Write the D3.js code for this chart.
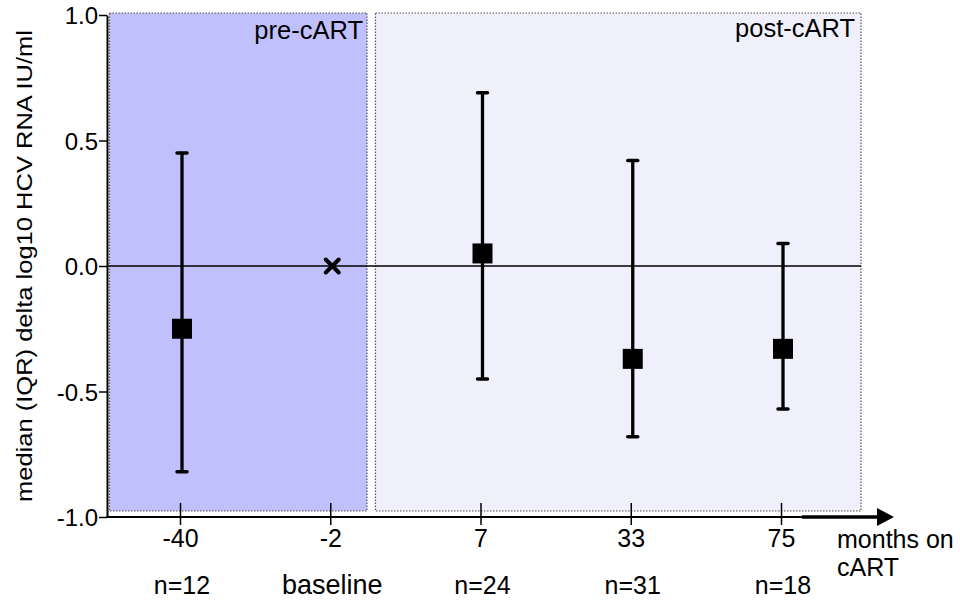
<!DOCTYPE html>
<html><head><meta charset="utf-8">
<script src="https://cdn.jsdelivr.net/npm/d3@7"></script>
<style>body{margin:0;background:#fff}text{font-family:"Liberation Sans",Arial,sans-serif;fill:#000}</style>
</head><body><svg id="c" width="960" height="600"></svg>
<script>
const categories = ["-40", "-2", "7", "33", "75"];
const nLabels = ["n=12", "baseline", "n=24", "n=31", "n=18"];
const medians = [-0.25, 0, 0.05, -0.37, -0.33];
const upper = [0.45, null, 0.69, 0.42, 0.09];
const lower = [-0.82, null, -0.45, -0.68, -0.57];
const yTicks = [1.0, 0.5, 0.0, -0.5, -1.0];
const regionLabels = ["pre-cART", "post-cART"];

const svg = d3.select("#c");
const x = d3.scalePoint().domain(categories).range([182, 783]);
const y = d3.scaleLinear().domain([-1, 1]).range([517, 15]);
const axisX = 107;
const tickOffset = -2;

// shaded regions
const regTop = 13, regBot = 511;
svg.append("rect").attr("x", 109.5).attr("y", regTop).attr("width", 367 - 109.5)
  .attr("height", regBot - regTop).attr("fill", "#c0c0fd").attr("stroke", "#555").attr("stroke-width", 1.2).attr("stroke-dasharray", "1.5,1.5");
svg.append("rect").attr("x", 375.5).attr("y", regTop).attr("width", 861 - 375.5)
  .attr("height", regBot - regTop).attr("fill", "#f0f0fd").attr("stroke", "#555").attr("stroke-width", 1.2).attr("stroke-dasharray", "1.5,1.5");
svg.append("text").attr("x", 363).attr("y", 39).attr("text-anchor", "end").attr("font-size", 25.5).text(regionLabels[0]);
svg.append("text").attr("x", 855).attr("y", 37).attr("text-anchor", "end").attr("font-size", 25.5).text(regionLabels[1]);

// zero line
svg.append("line").attr("x1", axisX).attr("x2", 861).attr("y1", y(0)).attr("y2", y(0)).attr("stroke", "#000").attr("stroke-width", 1.3);

// y axis
const yAxis = d3.axisLeft(y).tickValues(yTicks).tickFormat(d => d3.format(".1f")(d).replace("\u2212", "-")).tickSize(8).tickPadding(1).tickSizeOuter(0);
const ya = svg.append("g").attr("transform", `translate(${axisX},0)`).call(yAxis);
ya.select(".domain").attr("stroke-width", 2);
ya.selectAll(".tick line").attr("stroke-width", 1.5);
ya.selectAll("text").attr("font-size", 24).attr("font-family", null).attr("dy", "0.36em");

svg.append("text").attr("transform", `translate(32,${y(0)}) rotate(-90) scale(1.16,1)`).attr("text-anchor", "middle").attr("font-size", 22)
  .text("median (IQR) delta log10 HCV RNA IU/ml");

// x axis ticks and labels
const xg = svg.append("g").attr("transform", `translate(${tickOffset},${y(-1)})`)
  .call(d3.axisBottom(x).tickSize(0).tickPadding(0).tickSizeOuter(0));
xg.select(".domain").remove();
xg.selectAll("text").attr("font-size", 25).attr("font-family", null).attr("dy", null).attr("y", 30);
xg.selectAll(".tick").append("line").attr("y1", -14).attr("y2", 8).attr("stroke", "#000").attr("stroke-width", 1.5);

svg.append("line").attr("x1", axisX - 1).attr("x2", 806).attr("y1", y(-1)).attr("y2", y(-1)).attr("stroke", "#000").attr("stroke-width", 2);
svg.append("line").attr("x1", 802).attr("x2", 880).attr("y1", y(-1)).attr("y2", y(-1)).attr("stroke", "#000").attr("stroke-width", 3.5);
svg.append("path").attr("d", `M877,${y(-1)-9} L894,${y(-1)} L877,${y(-1)+9} Z`).attr("fill", "#000");

svg.append("text").attr("x", 837).attr("y", 548).attr("font-size", 25).text("months on");
svg.append("text").attr("x", 837).attr("y", 576).attr("font-size", 25).text("cART");

// n labels
svg.append("g").selectAll("text").data(categories).join("text")
  .attr("x", d => x(d) + tickOffset + 2).attr("y", 594).attr("text-anchor", "middle")
  .attr("font-size", (d, i) => nLabels[i] === "baseline" ? 27 : 25).text((d, i) => nLabels[i]);

// error bars
const data = categories.map((c, i) => ({c, m: medians[i], hi: upper[i], lo: lower[i]}));
const eb = data.filter(d => d.hi !== null);
svg.append("g").selectAll("line").data(eb).join("line")
  .attr("x1", d => x(d.c)).attr("x2", d => x(d.c)).attr("y1", d => y(d.hi)).attr("y2", d => y(d.lo))
  .attr("stroke", "#000").attr("stroke-width", 3.3);
["hi", "lo"].forEach(k => {
  svg.append("g").selectAll("line").data(eb).join("line")
    .attr("x1", d => x(d.c) - 5).attr("x2", d => x(d.c) + 5).attr("y1", d => y(d[k])).attr("y2", d => y(d[k]))
    .attr("stroke", "#000").attr("stroke-width", 3.5).attr("stroke-linecap", "round");
});
svg.append("g").selectAll("rect").data(eb).join("rect")
  .attr("x", d => x(d.c) - 10).attr("y", d => y(d.m) - 10).attr("width", 20).attr("height", 20).attr("fill", "#000");

// baseline cross
data.filter(d => d.hi === null).forEach(d => {
  const cx = x(d.c), cy = y(d.m);
  svg.append("path").attr("d", `M${cx-6.5},${cy-6.5}L${cx+6.5},${cy+6.5}M${cx-6.5},${cy+6.5}L${cx+6.5},${cy-6.5}`)
    .attr("stroke", "#000").attr("stroke-width", 4).attr("stroke-linecap", "round");
});
</script></body></html>
